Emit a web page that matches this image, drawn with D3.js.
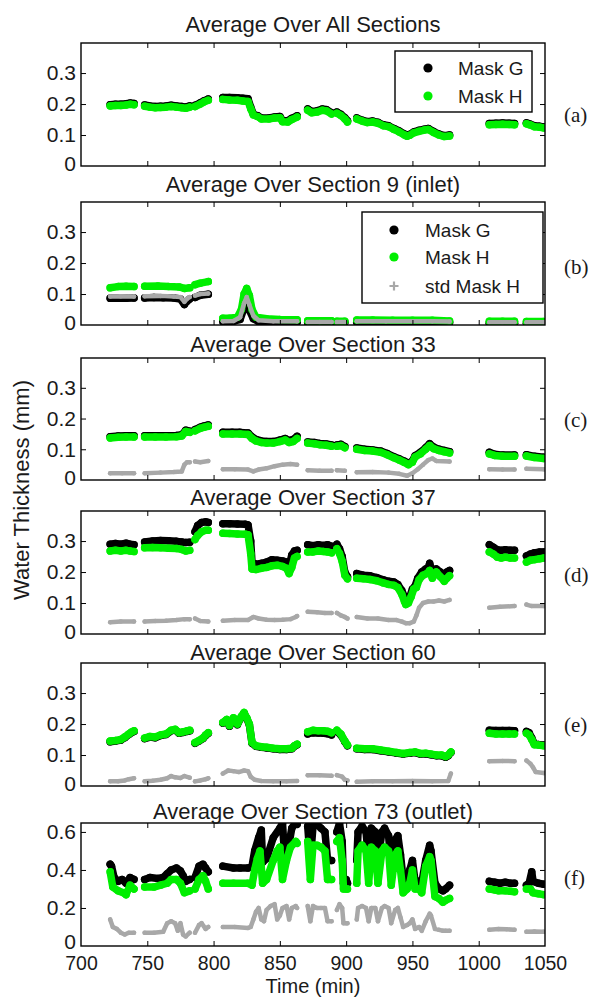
<!DOCTYPE html>
<html><head><meta charset="utf-8">
<script src="https://cdn.jsdelivr.net/npm/d3@7"></script>
<style>
body{margin:0;background:#fff;}
svg{display:block;}
text{font-family:"Liberation Sans",Arial,Helvetica,sans-serif;fill:#1a1a1a;}
</style>
</head><body>
<svg id="c" width="590" height="997"></svg>
<script>
// ---------------- labels / ticks ----------------
const timeTicks = [700,750,800,850,900,950,1000,1050];
const yTicksSmall = [0,0.1,0.2,0.3];
const yTicksLarge = [0,0.2,0.4,0.6];
const yMaxSmall = 0.397;
const yMaxLarge = 0.647;
const panelTitles = ["Average Over All Sections","Average Over Section 9 (inlet)","Average Over Section 33","Average Over Section 37","Average Over Section 60","Average Over Section 73 (outlet)"];
const panelLetters = ["(a)","(b)","(c)","(d)","(e)","(f)"];
const legendLabels = ["Mask G","Mask H","std Mask H"];
const xAxisLabel = "Time (min)";
const yAxisLabel = "Water Thickness (mm)";

// ---------------- data: segments of [time (min), thickness (mm)] ----------------
// (a) all sections
const allG = [
 [[722,.198],[726,.199],[730,.199],[734,.201],[737,.203],[740,.202]],
 [[748,.197],[752,.194],[756,.192],[760,.193],[764,.194],[768,.196],[772,.194],[776,.192],[779,.19],[782,.194]],
 [[786,.196],[790,.204],[793,.211],[796,.216]],
 [[807,.221],[812,.221],[818,.22],[822,.219],[826,.217],[828,.19],[830,.168],[833,.163],[836,.155],[842,.155],[846,.158],[850,.16],[852,.147],[856,.146],[859,.154],[863,.162]],
 [[871,.184],[874,.176],[878,.178],[882,.184],[885,.182],[889,.172]],
 [[893,.174],[896,.167],[899,.156],[901,.146]],
 [[908,.155],[912,.148],[916,.143],[920,.145],[924,.141],[928,.133],[932,.13],[936,.121],[940,.113],[944,.103],[946,.099],[948,.102],[951,.11],[955,.115],[959,.119],[962,.121],[966,.111],[970,.103],[974,.098],[978,.1]],
 [[1008,.137],[1013,.138],[1018,.139],[1023,.138],[1027,.137]],
 [[1036,.139],[1039,.135],[1042,.13],[1046,.128],[1049,.126]]
];
const allH = [
 [[722,.194],[726,.195],[730,.195],[734,.197],[737,.199],[740,.198]],
 [[748,.193],[752,.19],[756,.188],[760,.189],[764,.19],[768,.192],[772,.19],[776,.188],[779,.186],[782,.19]],
 [[786,.192],[790,.2],[793,.207],[796,.212]],
 [[807,.215],[812,.213],[818,.212],[822,.21],[826,.208],[828,.185],[830,.165],[833,.16],[836,.152],[842,.152],[846,.155],[850,.156],[852,.143],[856,.142],[859,.15],[863,.158]],
 [[871,.18],[874,.172],[878,.174],[882,.18],[885,.178],[889,.168]],
 [[893,.17],[896,.163],[899,.152],[901,.142]],
 [[908,.152],[912,.145],[916,.14],[920,.142],[924,.138],[928,.13],[932,.127],[936,.118],[940,.11],[944,.1],[946,.096],[948,.099],[951,.107],[955,.112],[959,.116],[962,.118],[966,.108],[970,.1],[974,.095],[978,.097]],
 [[1008,.133],[1013,.134],[1018,.135],[1023,.134],[1027,.133]],
 [[1036,.136],[1039,.132],[1042,.127],[1046,.125],[1049,.123]]
];
// (b) section 9
const s9G = [
 [[722,.086],[728,.087],[734,.086],[740,.087]],
 [[748,.087],[755,.089],[762,.088],[770,.087],[775,.084],[778,.066],[780,.077],[782,.084]],
 [[786,.089],[790,.096],[796,.099]],
 [[807,.011],[815,.012],[820,.018],[823,.055],[825,.075],[827,.048],[830,.02],[834,.011],[845,.009],[855,.009],[863,.009]],
 [[871,.008],[880,.008],[889,.008]],
 [[893,.008],[899,.008]],
 [[908,.009],[930,.009],[950,.009],[965,.009],[978,.008]],
 [[1008,.006],[1018,.006],[1027,.006]],
 [[1036,.006],[1049,.006]]
];
const s9H = [
 [[722,.12],[728,.124],[734,.125],[740,.124]],
 [[748,.125],[758,.126],[766,.124],[774,.123],[778,.118],[782,.12]],
 [[786,.13],[790,.135],[796,.14]],
 [[807,.022],[812,.022],[818,.025],[821,.05],[823,.1],[825,.118],[827,.095],[829,.05],[832,.025],[840,.02],[850,.018],[863,.017]],
 [[871,.014],[880,.014],[889,.014]],
 [[893,.012],[899,.012]],
 [[908,.016],[920,.016],[935,.015],[950,.015],[965,.015],[978,.013]],
 [[1008,.012],[1018,.012],[1027,.012]],
 [[1036,.011],[1049,.011]]
];
const s9S = [
 [[722,.092],[730,.093],[740,.092]],
 [[748,.093],[760,.094],[770,.092],[775,.09],[778,.075],[780,.085],[782,.09]],
 [[786,.095],[790,.1],[796,.102]],
 [[807,.012],[815,.013],[820,.025],[823,.07],[825,.09],[827,.065],[830,.03],[834,.015],[845,.012],[863,.012]],
 [[871,.01],[880,.01],[889,.01]],
 [[893,.01],[899,.01]],
 [[908,.012],[930,.012],[950,.012],[965,.012],[978,.011]],
 [[1008,.009],[1018,.009],[1027,.009]],
 [[1036,.009],[1049,.009]]
];
// (c) section 33
const s33G = [
 [[722,.141],[728,.143],[734,.144],[740,.144]],
 [[748,.144],[756,.144],[764,.144],[772,.145],[776,.147],[779,.162],[782,.159]],
 [[786,.164],[790,.172],[793,.176],[796,.179]],
 [[807,.155],[814,.155],[820,.155],[826,.153],[829,.14],[832,.132],[836,.127],[840,.125],[845,.125],[850,.13],[854,.135],[857,.128],[860,.132],[863,.142]],
 [[871,.124],[876,.122],[880,.119],[885,.117],[889,.114]],
 [[893,.114],[896,.116],[899,.109]],
 [[908,.104],[914,.1],[920,.098],[926,.094],[931,.086],[936,.076],[940,.069],[944,.061],[947,.054],[950,.062],[952,.079],[956,.09],[960,.105],[963,.118],[966,.107],[970,.1],[974,.096],[978,.092]],
 [[1008,.09],[1012,.084],[1018,.081],[1027,.081]],
 [[1036,.082],[1042,.077],[1049,.074]]
];
const s33H = [
 [[722,.137],[728,.139],[734,.14],[740,.14]],
 [[748,.14],[756,.14],[764,.14],[772,.141],[776,.143],[779,.158],[782,.155]],
 [[786,.16],[790,.168],[793,.172],[796,.175]],
 [[807,.15],[814,.15],[820,.15],[826,.148],[829,.135],[832,.127],[836,.122],[840,.12],[845,.12],[850,.125],[854,.13],[857,.122],[860,.125],[863,.135]],
 [[871,.12],[876,.118],[880,.115],[885,.113],[889,.11]],
 [[893,.11],[896,.112],[899,.105]],
 [[908,.1],[914,.096],[920,.094],[926,.09],[931,.082],[936,.072],[940,.065],[944,.057],[947,.05],[950,.058],[952,.075],[956,.085],[960,.1],[963,.112],[966,.102],[970,.096],[974,.092],[978,.088]],
 [[1008,.085],[1012,.08],[1018,.077],[1027,.077]],
 [[1036,.078],[1042,.073],[1049,.07]]
];
const s33S = [
 [[722,.022],[731,.022],[740,.022]],
 [[748,.022],[760,.024],[770,.026],[776,.028],[778,.05],[780,.058],[782,.058]],
 [[786,.06],[790,.058],[796,.062]],
 [[807,.035],[816,.035],[826,.034],[830,.028],[834,.034],[840,.038],[846,.045],[852,.05],[858,.052],[863,.05]],
 [[871,.032],[880,.03],[889,.03]],
 [[893,.032],[899,.03]],
 [[908,.025],[920,.026],[932,.024],[940,.02],[946,.014],[950,.022],[954,.035],[958,.05],[962,.065],[965,.07],[968,.062],[978,.06]],
 [[1008,.035],[1018,.034],[1027,.034]],
 [[1036,.037],[1049,.035]]
];
// (d) section 37
const s37G = [
 [[722,.29],[726,.292],[730,.29],[734,.293],[737,.29],[740,.288]],
 [[748,.297],[754,.3],[760,.302],[766,.301],[772,.299],[776,.297],[779,.295],[782,.296]],
 [[786,.33],[788,.35],[791,.36],[794,.362],[796,.36]],
 [[807,.356],[812,.356],[818,.355],[824,.354],[826,.352],[828,.3],[829,.232],[832,.225],[836,.228],[840,.232],[844,.24],[848,.238],[852,.236],[855,.232],[857,.22],[859,.255],[861,.268],[863,.27]],
 [[871,.288],[875,.285],[879,.288],[883,.286],[886,.288],[889,.283]],
 [[893,.29],[895,.275],[897,.25],[899,.2],[901,.185]],
 [[908,.195],[913,.19],[918,.188],[923,.182],[928,.175],[932,.17],[936,.168],[939,.16],[942,.14],[944,.12],[946,.108],[948,.12],[950,.145],[952,.155],[954,.18],[957,.2],[960,.21],[962,.215],[963,.228],[965,.2],[968,.21],[971,.2],[974,.19],[976,.2],[978,.205]],
 [[1008,.288],[1011,.28],[1014,.272],[1017,.27],[1020,.272],[1024,.27],[1027,.27]],
 [[1036,.252],[1039,.258],[1042,.262],[1046,.265],[1049,.265]]
];
const s37H = [
 [[722,.268],[726,.27],[730,.268],[734,.27],[737,.268],[740,.266]],
 [[748,.278],[754,.279],[760,.278],[766,.277],[772,.276],[776,.273],[779,.268],[782,.27]],
 [[786,.305],[788,.318],[791,.33],[794,.335],[796,.335]],
 [[807,.325],[812,.324],[818,.323],[824,.322],[826,.32],[828,.26],[829,.21],[832,.208],[836,.212],[840,.215],[844,.22],[848,.222],[852,.218],[855,.212],[857,.195],[859,.215],[861,.245],[863,.25]],
 [[871,.265],[875,.265],[879,.268],[883,.266],[886,.265],[889,.262]],
 [[893,.275],[895,.26],[897,.235],[899,.19],[901,.178]],
 [[908,.18],[913,.178],[918,.176],[923,.172],[928,.165],[932,.16],[936,.157],[939,.15],[942,.128],[944,.105],[945,.095],[947,.1],[949,.12],[951,.145],[953,.15],[955,.175],[958,.19],[961,.195],[963,.205],[965,.18],[968,.2],[971,.185],[974,.17],[976,.18],[978,.188]],
 [[1008,.265],[1011,.258],[1014,.248],[1017,.245],[1020,.248],[1024,.245],[1027,.245]],
 [[1036,.232],[1039,.238],[1042,.24],[1046,.243],[1049,.245]]
];
const s37S = [
 [[722,.038],[730,.04],[740,.04]],
 [[748,.04],[756,.042],[764,.043],[772,.045],[778,.048],[782,.048]],
 [[786,.05],[790,.042],[796,.04]],
 [[807,.043],[816,.045],[826,.045],[830,.055],[834,.05],[840,.046],[846,.045],[852,.046],[858,.048],[862,.055],[863,.058]],
 [[871,.072],[878,.07],[884,.068],[889,.068]],
 [[893,.068],[896,.06],[899,.055],[901,.05]],
 [[908,.055],[916,.05],[924,.05],[932,.045],[938,.045],[942,.04],[945,.035],[948,.035],[951,.04],[953,.06],[955,.085],[958,.1],[962,.105],[966,.105],[970,.108],[974,.105],[978,.11]],
 [[1008,.085],[1016,.088],[1027,.09]],
 [[1036,.095],[1040,.09],[1049,.09]]
];
// (e) section 60
const s60G = [
 [[722,.143],[726,.145],[730,.148],[733,.156],[736,.166],[738,.172],[740,.176]],
 [[748,.153],[752,.158],[756,.156],[760,.163],[764,.166],[768,.178],[771,.181],[774,.17],[777,.173],[780,.176],[782,.178]],
 [[786,.138],[789,.145],[792,.153],[794,.163],[796,.17]],
 [[807,.203],[810,.213],[812,.193],[815,.218],[818,.198],[821,.223],[823,.235],[825,.218],[827,.198],[829,.138],[832,.128],[836,.125],[840,.123],[845,.12],[850,.118],[855,.118],[859,.12],[861,.128],[863,.133]],
 [[871,.168],[875,.172],[879,.171],[883,.17],[886,.169],[889,.165]],
 [[893,.176],[896,.165],[899,.143],[901,.13]],
 [[908,.12],[914,.118],[920,.118],[926,.114],[932,.11],[938,.106],[943,.103],[948,.106],[952,.108],[956,.103],[960,.104],[964,.101],[968,.098],[972,.098],[975,.093],[977,.098],[979,.108]],
 [[1008,.18],[1013,.179],[1018,.179],[1023,.179],[1027,.178]],
 [[1036,.176],[1038,.172],[1040,.155],[1042,.136],[1045,.134],[1049,.132]]
];
const s60H = [
 [[722,.145],[726,.147],[730,.15],[733,.158],[736,.168],[738,.174],[740,.178]],
 [[748,.155],[752,.16],[756,.158],[760,.165],[764,.168],[768,.18],[771,.183],[774,.172],[777,.175],[780,.178],[782,.18]],
 [[786,.14],[789,.147],[792,.155],[794,.165],[796,.172]],
 [[807,.205],[810,.215],[812,.195],[815,.22],[818,.2],[821,.225],[823,.237],[825,.22],[827,.2],[829,.14],[832,.13],[836,.127],[840,.125],[845,.122],[850,.12],[855,.12],[859,.122],[861,.13],[863,.135]],
 [[871,.175],[875,.18],[879,.178],[883,.178],[886,.177],[889,.172]],
 [[893,.18],[896,.168],[899,.145],[901,.132]],
 [[908,.122],[914,.12],[920,.12],[926,.116],[932,.112],[938,.108],[943,.105],[948,.108],[952,.11],[956,.105],[960,.106],[964,.103],[968,.1],[972,.1],[975,.095],[977,.1],[979,.11]],
 [[1008,.17],[1013,.168],[1018,.168],[1023,.168],[1027,.168]],
 [[1036,.17],[1038,.165],[1040,.15],[1042,.133],[1045,.132],[1049,.13]]
];
const s60S = [
 [[722,.015],[728,.015],[733,.018],[736,.022],[740,.025]],
 [[748,.015],[754,.017],[760,.02],[765,.025],[768,.032],[771,.028],[775,.026],[778,.032],[782,.027]],
 [[786,.015],[790,.018],[794,.022],[796,.025]],
 [[807,.04],[811,.05],[815,.048],[819,.045],[823,.05],[826,.048],[828,.03],[831,.02],[836,.016],[845,.015],[855,.015],[863,.016]],
 [[871,.035],[880,.035],[889,.033]],
 [[893,.035],[897,.03],[899,.02],[901,.018]],
 [[908,.014],[920,.015],[935,.015],[950,.016],[965,.015],[977,.016],[979,.04]],
 [[1008,.08],[1018,.081],[1027,.08]],
 [[1036,.082],[1039,.072],[1041,.06],[1043,.045],[1049,.042]]
];
// (f) section 73
const s73G = [
 [[722,.43],[723,.42],[725,.36],[728,.34],[731,.35],[734,.33],[737,.36],[740,.35]],
 [[748,.35],[752,.36],[758,.355],[762,.36],[765,.38],[768,.4],[772,.41],[775,.395],[777,.37],[779,.34],[782,.35]],
 [[786,.36],[789,.42],[792,.43],[794,.41],[796,.39]],
 [[807,.42],[815,.41],[820,.41],[826,.41],[829,.42],[831,.5],[834,.57],[836,.61],[837,.44],[840,.46],[845,.57],[850,.62],[852,.645],[854,.43],[856,.5],[859,.62],[862,.65],[863,.64]],
 [[871,.63],[873,.45],[875,.63],[878,.64],[881,.62],[884,.6],[886,.45],[889,.45]],
 [[893,.6],[895,.645],[897,.55],[898,.33],[900,.35],[901,.33]],
 [[908,.45],[909,.6],[912,.63],[915,.6],[917,.45],[919,.62],[922,.6],[924,.45],[927,.6],[929,.62],[932,.58],[934,.42],[937,.56],[939,.58],[941,.48],[943,.35],[946,.36],[948,.4],[950,.45],[952,.34],[955,.34],[957,.33],[960,.45],[963,.53],[964,.5],[967,.33],[970,.3],[973,.29],[975,.3],[978,.32]],
 [[1008,.34],[1012,.335],[1016,.33],[1020,.335],[1024,.33],[1027,.33]],
 [[1036,.32],[1038,.33],[1040,.39],[1041,.34],[1045,.33],[1049,.325]]
];
const s73H = [
 [[722,.39],[724,.31],[728,.29],[732,.28],[734,.27],[737,.32],[740,.3]],
 [[748,.31],[755,.31],[760,.32],[765,.33],[768,.35],[772,.35],[775,.33],[778,.28],[782,.29]],
 [[786,.3],[789,.35],[792,.37],[794,.34],[796,.3]],
 [[807,.33],[815,.33],[826,.33],[829,.32],[831,.4],[833,.46],[835,.5],[837,.33],[840,.35],[845,.45],[848,.5],[850,.52],[852,.35],[855,.45],[858,.52],[862,.55],[863,.54]],
 [[871,.55],[873,.35],[875,.53],[878,.53],[881,.52],[884,.5],[886,.35],[889,.35]],
 [[893,.55],[895,.57],[897,.45],[898,.3],[900,.3],[901,.3]],
 [[908,.33],[909,.5],[912,.53],[915,.5],[917,.33],[919,.52],[922,.5],[924,.33],[927,.5],[929,.52],[932,.5],[934,.32],[937,.48],[939,.5],[941,.4],[943,.28],[946,.3],[948,.33],[950,.4],[952,.3],[955,.3],[957,.28],[960,.42],[963,.47],[964,.45],[967,.26],[970,.25],[973,.23],[975,.24],[978,.25]],
 [[1008,.3],[1012,.295],[1015,.29],[1020,.29],[1024,.288],[1027,.285]],
 [[1036,.3],[1039,.3],[1041,.28],[1045,.275],[1049,.27]]
];
const s73S = [
 [[722,.14],[724,.1],[727,.09],[730,.07],[733,.06],[736,.07],[740,.07]],
 [[748,.07],[755,.07],[762,.075],[765,.12],[768,.13],[771,.12],[773,.08],[775,.12],[777,.06],[779,.05],[782,.07]],
 [[786,.07],[789,.11],[791,.12],[794,.09],[796,.1]],
 [[807,.1],[816,.1],[826,.095],[828,.1],[830,.14],[832,.18],[834,.2],[836,.14],[838,.13],[840,.19],[843,.21],[846,.22],[848,.14],[850,.16],[852,.2],[855,.21],[857,.14],[859,.2],[862,.21],[863,.2]],
 [[871,.21],[873,.13],[875,.21],[878,.2],[881,.2],[884,.2],[886,.13],[889,.13]],
 [[893,.19],[895,.22],[897,.2],[898,.12],[900,.12],[901,.12]],
 [[908,.14],[909,.2],[912,.21],[915,.2],[917,.13],[919,.2],[922,.2],[924,.13],[927,.2],[929,.21],[932,.2],[934,.12],[937,.19],[939,.2],[941,.15],[943,.1],[946,.11],[948,.12],[950,.14],[952,.09],[955,.1],[957,.08],[960,.13],[963,.17],[964,.16],[967,.09],[970,.085],[973,.08],[975,.08],[978,.08]],
 [[1008,.085],[1015,.09],[1021,.088],[1027,.085]],
 [[1036,.075],[1042,.076],[1049,.075]]
];

// ---------------- drawing ----------------
const svg = d3.select("#c");
const X0 = 81, X1 = 545;
const x = d3.scaleLinear().domain([timeTicks[0], timeTicks[timeTicks.length-1]]).range([X0, X1]);

const colors = {G:"#000000", H:"#00ee00", S:"#a8a8a8"};
const widths = {G:7.5, H:7.5, S:4.5};

const layout = [
 {top:43, bottom:166, titleY:32, letterY:122},
 {top:202,bottom:325, titleY:192,letterY:274},
 {top:358,bottom:480, titleY:352,letterY:427},
 {top:511,bottom:634, titleY:505,letterY:582},
 {top:663,bottom:786, titleY:660,letterY:732},
 {top:823,bottom:946, titleY:819,letterY:885}
];
const series = [
 {G:allG, H:allH, S:null, ymax:yMaxSmall, ticks:yTicksSmall},
 {G:s9G,  H:s9H,  S:s9S,  ymax:yMaxSmall, ticks:yTicksSmall},
 {G:s33G, H:s33H, S:s33S, ymax:yMaxSmall, ticks:yTicksSmall},
 {G:s37G, H:s37H, S:s37S, ymax:yMaxSmall, ticks:yTicksSmall},
 {G:s60G, H:s60H, S:s60S, ymax:yMaxSmall, ticks:yTicksSmall},
 {G:s73G, H:s73H, S:s73S, ymax:yMaxLarge, ticks:yTicksLarge}
];
const yFmt = d => d === 0 ? "0" : d3.format(".1f")(d);

series.forEach((p, i) => {
  const L = layout[i];
  const last = i === series.length - 1;
  const y = d3.scaleLinear().domain([0, p.ymax]).range([L.bottom, L.top]);
  const g = svg.append("g");
  const cid = "clip" + i;
  svg.append("defs").append("clipPath").attr("id", cid)
    .append("rect").attr("x", X0).attr("y", L.top).attr("width", X1 - X0).attr("height", L.bottom - L.top);
  const plot = g.append("g").attr("clip-path", `url(#${cid})`);
  const line = d3.line().x(d => x(d[0])).y(d => y(d[1]));
  ["G","H","S"].forEach(k => {
    const segs = p[k];
    if (!segs) return;
    const sg = plot.append("g");
    sg.selectAll("path").data(segs).join("path")
      .attr("d", line).attr("fill","none").attr("stroke", colors[k])
      .attr("stroke-width", widths[k]).attr("stroke-linecap","round").attr("stroke-linejoin","round");
    sg.selectAll("circle").data(segs.flat()).join("circle")
      .attr("cx", d => x(d[0])).attr("cy", d => y(d[1])).attr("r", widths[k]/2).attr("fill", colors[k]);
  });

  // axes (inward ticks)
  const axL = g.append("g").attr("transform",`translate(${X0},0)`)
    .call(d3.axisLeft(y).tickValues(p.ticks).tickSize(-5).tickSizeOuter(0).tickPadding(5).tickFormat(yFmt));
  const axR = g.append("g").attr("transform",`translate(${X1},0)`)
    .call(d3.axisRight(y).tickValues(p.ticks.filter(t=>t>0)).tickSize(-5).tickSizeOuter(0).tickFormat(""));
  const axT = g.append("g").attr("transform",`translate(0,${L.top})`)
    .call(d3.axisTop(x).tickValues(timeTicks.slice(1,-1)).tickSize(-5).tickSizeOuter(0).tickFormat(""));
  const axB = g.append("g").attr("transform",`translate(0,${L.bottom})`)
    .call(d3.axisBottom(x).tickValues(last ? timeTicks : timeTicks.slice(1,-1)).tickSize(-5).tickSizeOuter(0).tickPadding(10.5)
      .tickFormat(last ? d3.format("d") : ""));
  [axL,axR,axT,axB].forEach(a => {
    a.select(".domain").remove();
    a.selectAll("line").attr("stroke","#000").attr("stroke-width",1);
    a.selectAll("text").attr("font-size",21).attr("fill","#1a1a1a")
      .attr("font-family",'"Liberation Sans",Arial,sans-serif');
  });
  axB.selectAll("text").attr("font-size",19.5);
  axL.selectAll(".tick").filter(d => d === 0).select("line").remove();
  axL.selectAll(".tick").filter(d => d === 0).select("text").attr("dy", last ? "0.1em" : "0.2em");
  axB.selectAll(".tick").filter(d => d === 700 || d === 1050).select("line").remove();

  g.append("rect").attr("x",X0).attr("y",L.top).attr("width",X1-X0).attr("height",L.bottom-L.top)
    .attr("fill","none").attr("stroke","#000").attr("stroke-width",1.4);

  g.append("text").attr("x",(X0+X1)/2).attr("y",L.titleY).attr("text-anchor","middle")
    .attr("font-size",22).text(panelTitles[i]);
  g.append("text").attr("x",564).attr("y",L.letterY)
    .attr("font-size",21).style("font-family",'"Liberation Serif","Times New Roman",serif').text(panelLetters[i]);
});

// legends
function legend(box, rows, mx, tx) {
  const lg = svg.append("g");
  lg.append("rect").attr("x",box[0]).attr("y",box[1]).attr("width",box[2]).attr("height",box[3])
    .attr("fill","#fff").attr("stroke","#000").attr("stroke-width",1.4);
  rows.forEach(r => {
    if (r.k === "S") {
      lg.append("path").attr("d",`M${mx-4.5},${r.y}h9M${mx},${r.y-4.5}v9`)
        .attr("stroke",colors.S).attr("stroke-width",2.2);
    } else {
      lg.append("circle").attr("cx",mx).attr("cy",r.y).attr("r",4.6).attr("fill",colors[r.k]);
    }
    lg.append("text").attr("x",tx).attr("y",r.y).attr("dy","0.36em").attr("font-size",19).text(r.label);
  });
}
legend([395,51,137,61], [{k:"G",y:68,label:legendLabels[0]},{k:"H",y:96,label:legendLabels[1]}], 428, 458);
legend([362,212,181,91], [{k:"G",y:230,label:legendLabels[0]},{k:"H",y:257,label:legendLabels[1]},{k:"S",y:286,label:legendLabels[2]}], 394, 425);

// axis labels
svg.append("text").attr("x",(X0+X1)/2).attr("y",992.6).attr("text-anchor","middle").attr("font-size",20).text(xAxisLabel);
svg.append("text").attr("transform","translate(29,490) rotate(-90)").attr("text-anchor","middle").attr("font-size",22).text(yAxisLabel);
</script>
</body></html>
